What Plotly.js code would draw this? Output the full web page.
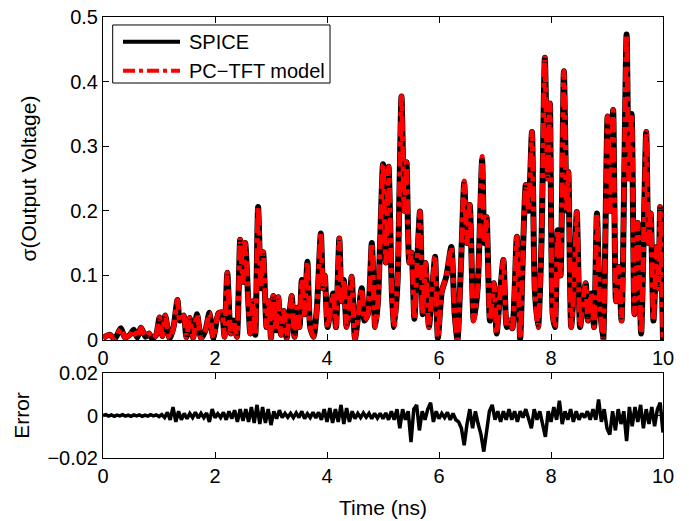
<!DOCTYPE html>
<html>
<head>
<meta charset="utf-8">
<script src="https://cdn.plot.ly/plotly-3.0.1.min.js"></script>
<style>html,body{margin:0;padding:0;background:#fff;}#chart{width:689px;height:521px;}</style>
</head>
<body>
<div id="chart"></div>
<script>
// Time (ns) of the sampled output-voltage sigma
const sigmaTime = [
0.00,0.12,0.21,0.32,0.39,0.48,0.55,0.61,0.68,0.76,0.82,0.88,0.95,1.01,1.06,1.11,1.19,1.26,1.33,1.37,
1.44,1.49,1.55,1.61,1.68,1.75,1.83,1.90,1.97,2.06,2.12,2.17,2.22,2.28,2.33,2.39,2.45,2.50,2.54,2.60,
2.63,2.68,2.72,2.77,2.82,2.86,2.92,2.96,3.00,3.04,3.09,3.13,3.18,3.23,3.28,3.33,3.37,3.42,3.47,3.51,
3.55,3.60,3.65,3.70,3.76,3.82,3.89,3.93,3.96,4.01,4.06,4.11,4.16,4.22,4.26,4.30,4.35,4.39,4.44,4.50,
4.56,4.62,4.67,4.73,4.80,4.86,4.91,5.00,5.05,5.10,5.16,5.20,5.26,5.33,5.38,5.42,5.47,5.51,5.56,5.61,
5.66,5.71,5.76,5.82,5.88,5.93,5.98,6.05,6.13,6.22,6.28,6.33,6.39,6.45,6.50,6.55,6.62,6.69,6.77,6.81,
6.85,6.91,6.98,7.03,7.08,7.15,7.21,7.26,7.31,7.39,7.45,7.50,7.55,7.60,7.66,7.71,7.77,7.83,7.89,7.94,
7.98,8.03,8.07,8.12,8.17,8.23,8.28,8.31,8.36,8.41,8.46,8.52,8.57,8.62,8.66,8.72,8.77,8.82,8.87,8.93,
9.01,9.06,9.11,9.16,9.21,9.26,9.35,9.39,9.44,9.49,9.55,9.61,9.70,9.74,9.78,9.83,9.89,9.92,9.95,10.00
];
// SPICE sigma(Output Voltage)
const spiceSigma = [
0.003,0.008,0.002,0.018,0.004,0.008,0.016,0.004,0.019,0.005,0.010,0.002,0.008,0.035,0.006,0.038,0.002,0.020,0.062,0.030,
0.038,0.004,0.034,0.003,0.040,0.003,0.015,0.042,0.003,0.041,0.043,0.005,0.104,0.010,0.030,0.005,0.155,0.090,0.150,0.050,
0.010,0.060,0.008,0.206,0.080,0.136,0.020,0.060,0.003,0.068,0.015,0.066,0.008,0.045,0.003,0.040,0.068,0.005,0.050,0.020,
0.093,0.040,0.121,0.020,0.005,0.050,0.165,0.080,0.100,0.020,0.045,0.072,0.020,0.157,0.060,0.093,0.020,0.040,0.098,0.002,
0.040,0.080,0.030,0.040,0.150,0.020,0.060,0.272,0.120,0.268,0.070,0.020,0.090,0.377,0.200,0.275,0.120,0.135,0.033,0.120,
0.199,0.040,0.119,0.020,0.080,0.129,0.003,0.075,0.098,0.144,0.040,0.000,0.110,0.243,0.150,0.209,0.030,0.080,0.279,0.150,
0.190,0.030,0.088,0.010,0.060,0.124,0.020,0.030,0.018,0.160,0.002,0.140,0.240,0.200,0.322,0.080,0.020,0.150,0.437,0.250,
0.366,0.040,0.020,0.170,0.100,0.416,0.200,0.260,0.020,0.080,0.198,0.020,0.060,0.088,0.030,0.072,0.020,0.196,0.060,0.000,
0.346,0.200,0.356,0.060,0.113,0.030,0.473,0.250,0.350,0.040,0.181,0.010,0.322,0.150,0.196,0.030,0.144,0.080,0.206,0.000
];
// PC-TFT model sigma (indistinguishable from SPICE at this scale)
const modelSigma = [
0.003,0.008,0.002,0.018,0.004,0.008,0.016,0.004,0.019,0.005,0.010,0.002,0.008,0.035,0.006,0.038,0.002,0.020,0.062,0.030,
0.038,0.004,0.034,0.003,0.040,0.003,0.015,0.042,0.003,0.041,0.043,0.005,0.104,0.010,0.030,0.005,0.155,0.090,0.150,0.050,
0.010,0.060,0.008,0.206,0.080,0.136,0.020,0.060,0.003,0.068,0.015,0.066,0.008,0.045,0.003,0.040,0.068,0.005,0.050,0.020,
0.093,0.040,0.121,0.020,0.005,0.050,0.165,0.080,0.100,0.020,0.045,0.072,0.020,0.157,0.060,0.093,0.020,0.040,0.098,0.002,
0.040,0.080,0.030,0.040,0.150,0.020,0.060,0.272,0.120,0.268,0.070,0.020,0.090,0.377,0.200,0.275,0.120,0.135,0.033,0.120,
0.199,0.040,0.119,0.020,0.080,0.129,0.003,0.075,0.098,0.144,0.040,0.000,0.110,0.246,0.150,0.209,0.030,0.080,0.284,0.150,
0.190,0.030,0.088,0.010,0.060,0.124,0.020,0.030,0.018,0.160,0.002,0.140,0.240,0.200,0.322,0.080,0.020,0.150,0.437,0.250,
0.366,0.040,0.020,0.170,0.100,0.416,0.200,0.260,0.020,0.080,0.198,0.020,0.060,0.088,0.030,0.072,0.020,0.196,0.060,0.000,
0.346,0.200,0.356,0.060,0.113,0.030,0.473,0.250,0.350,0.040,0.181,0.010,0.322,0.150,0.196,0.030,0.144,0.080,0.206,0.000
];
// Error time base (ns)
const errTime = [
0.00,0.05,0.10,0.15,0.20,0.25,0.30,0.35,0.40,0.45,0.50,0.55,0.60,0.65,0.70,0.75,0.80,0.85,0.90,0.95,
1.00,1.05,1.10,1.15,1.20,1.25,1.30,1.35,1.40,1.45,1.50,1.55,1.60,1.65,1.70,1.75,1.80,1.85,1.90,1.95,
2.00,2.05,2.10,2.15,2.20,2.25,2.30,2.35,2.40,2.45,2.50,2.55,2.60,2.65,2.70,2.75,2.80,2.85,2.90,2.95,
3.00,3.05,3.10,3.15,3.20,3.25,3.30,3.35,3.40,3.45,3.50,3.55,3.60,3.65,3.70,3.75,3.80,3.85,3.90,3.95,
4.00,4.05,4.10,4.15,4.20,4.25,4.30,4.35,4.40,4.45,4.50,4.55,4.60,4.65,4.70,4.75,4.80,4.85,4.90,4.95,
5.00,5.05,5.10,5.15,5.20,5.25,5.30,5.35,5.40,5.45,5.50,5.55,5.60,5.65,5.70,5.75,5.80,5.85,5.90,5.95,
6.00,6.05,6.10,6.15,6.20,6.25,6.30,6.35,6.40,6.45,6.50,6.55,6.60,6.65,6.70,6.75,6.80,6.85,6.90,6.95,
7.00,7.05,7.10,7.15,7.20,7.25,7.30,7.35,7.40,7.45,7.50,7.55,7.60,7.65,7.70,7.75,7.80,7.85,7.90,7.95,
8.00,8.05,8.10,8.15,8.20,8.25,8.30,8.35,8.40,8.45,8.50,8.55,8.60,8.65,8.70,8.75,8.80,8.85,8.90,8.95,
9.00,9.05,9.10,9.15,9.20,9.25,9.30,9.35,9.40,9.45,9.50,9.55,9.60,9.65,9.70,9.75,9.80,9.85,9.90,9.95,
10.00
];
// Error between model and SPICE
const errValue = [
0,0.0004,-0.0003,0.0003,-0.0004,0.0002,-0.0002,0.0004,-0.0003,0.0002,-0.0004,0.0003,-0.0002,0.0003,-0.0004,0.0002,-0.0003,0.0004,-0.0002,0.0003,
-0.0005,0.0004,-0.001,0.0015,-0.002,0.004,-0.003,0.002,-0.002,0.001,-0.0015,0.001,-0.001,0.0015,-0.0012,0.001,-0.001,0.0012,-0.003,0.003,
-0.001,0.0008,-0.001,0.0015,-0.002,0.002,-0.0015,0.0025,-0.003,0.003,-0.0025,0.003,-0.003,0.004,-0.0035,0.005,-0.004,0.004,-0.0035,0.003,
-0.0045,0.002,-0.0015,0.0025,-0.001,0.001,-0.0008,0.001,-0.001,0.0012,-0.001,0.002,-0.0015,0.0008,-0.001,0.0015,-0.0012,0.0015,-0.002,0.003,
-0.003,0.0035,-0.0035,0.003,-0.003,0.005,-0.004,0.0035,-0.003,0.002,-0.0015,0.001,-0.001,0.0012,-0.0008,0.001,-0.0015,0.001,-0.0012,0.001,
-0.0015,0.0012,-0.002,0.002,-0.002,0.003,-0.006,0.003,-0.002,0.002,-0.0125,0.003,0.005,-0.007,0.002,-0.002,0.003,0.006,-0.003,0.002,
-0.0015,0.001,-0.001,0.0015,-0.002,0.001,-0.002,-0.003,-0.006,-0.014,-0.004,0.003,-0.006,0.002,-0.004,-0.009,-0.017,-0.008,0.002,0.005,
-0.002,0.002,-0.003,0.002,-0.002,0.003,-0.002,0.002,-0.003,0.002,-0.001,0.003,-0.002,-0.006,0.003,-0.002,0.002,-0.004,-0.010,0.002,
-0.003,0.004,-0.002,0.007,-0.004,0.002,-0.002,0.003,-0.003,0.002,-0.002,0.001,-0.001,0.002,-0.002,0.003,-0.002,0.0075,-0.003,0.003,
-0.006,-0.009,0.002,-0.007,0.003,-0.004,0.002,-0.012,0.004,-0.005,0.004,-0.003,0.005,-0.006,0.003,-0.004,0.004,-0.005,0.003,0.006,
-0.008
];
const xTicks = [0, 2, 4, 6, 8, 10];
const sigmaTicks = [0, 0.1, 0.2, 0.3, 0.4, 0.5];
const errTicks = [-0.02, 0, 0.02];
const seriesNames = ['SPICE', 'PC\u2212TFT model'];

const fam = '"Liberation Sans", Arial, sans-serif';
const tickFont = {family: fam, size: 20, color: '#000'};
const titleFont = {family: fam, size: 21, color: '#000'};
const axBase = {
  showline: true, linecolor: '#000', linewidth: 1, mirror: 'ticks',
  ticks: 'inside', ticklen: 6, tickcolor: '#000', showgrid: false, zeroline: false,
  tickfont: tickFont
};

const traces = [
  {x: sigmaTime, y: spiceSigma, name: seriesNames[0], type: 'scatter', mode: 'lines',
   line: {color: '#000', width: 6, shape: 'spline', smoothing: 0.6}, xaxis: 'x', yaxis: 'y'},
  {x: sigmaTime, y: modelSigma, name: seriesNames[1], type: 'scatter', mode: 'lines',
   line: {color: '#ff0000', width: 5, dash: 'dashdot', shape: 'spline', smoothing: 0.6}, xaxis: 'x', yaxis: 'y'},
  {x: errTime, y: errValue, name: 'Error', type: 'scatter', mode: 'lines',
   line: {color: '#000', width: 3.5}, xaxis: 'x2', yaxis: 'y2'}
];

// legend drawn in paper coordinates (box, line samples, labels)
const lg = {x0: 0.0173, x1: 0.4054, y0: 0.8503, y1: 0.9819, lx0: 0.0357, lx1: 0.1375, tx: 0.150, rows: [0.944, 0.8782]};
const shapes = [
  {type: 'rect', xref: 'paper', yref: 'paper', x0: lg.x0, x1: lg.x1, y0: lg.y0, y1: lg.y1,
   line: {color: '#000', width: 1}, fillcolor: '#fff', layer: 'above'},
  {type: 'line', xref: 'paper', yref: 'paper', x0: lg.lx0, x1: lg.lx1, y0: lg.rows[0], y1: lg.rows[0],
   line: {color: '#000', width: 4}, layer: 'above'},
  {type: 'line', xref: 'paper', yref: 'paper', x0: lg.lx0, x1: lg.lx1, y0: lg.rows[1], y1: lg.rows[1],
   line: {color: '#ff0000', width: 4, dash: 'dashdot'}, layer: 'above'}
];
const annotations = seriesNames.map((n, i) => ({
  xref: 'paper', yref: 'paper', x: lg.tx, y: lg.rows[i], xanchor: 'left', yanchor: 'middle',
  text: n, showarrow: false, font: {family: fam, size: 20, color: '#000'}
}));

const layout = {
  width: 689, height: 521,
  margin: {l: 103, r: 26, t: 17, b: 63},
  paper_bgcolor: '#fff', plot_bgcolor: '#fff',
  font: tickFont,
  showlegend: false,
  shapes: shapes,
  annotations: annotations,
  xaxis: Object.assign({}, axBase, {domain: [0, 1], anchor: 'y', range: [0, 10],
    tickvals: xTicks, ticktext: xTicks.map(String)}),
  yaxis: Object.assign({}, axBase, {domain: [0.2676, 1], anchor: 'x', range: [0, 0.5],
    tickvals: sigmaTicks, ticktext: sigmaTicks.map(String),
    title: {text: '\u03c3(Output Voltage)', font: titleFont, standoff: 27}}),
  xaxis2: Object.assign({}, axBase, {domain: [0, 1], anchor: 'y2', range: [0, 10],
    tickvals: xTicks, ticktext: xTicks.map(String),
    title: {text: 'Time (ns)', font: titleFont, standoff: 14}}),
  yaxis2: Object.assign({}, axBase, {domain: [0, 0.1927], anchor: 'x2', range: [-0.02, 0.02],
    tickvals: errTicks, ticktext: ['\u22120.02', '0', '0.02'],
    title: {text: 'Error', font: titleFont, standoff: 12}})
};

Plotly.newPlot('chart', traces, layout, {displayModeBar: false, staticPlot: true});
</script>
</body>
</html>
